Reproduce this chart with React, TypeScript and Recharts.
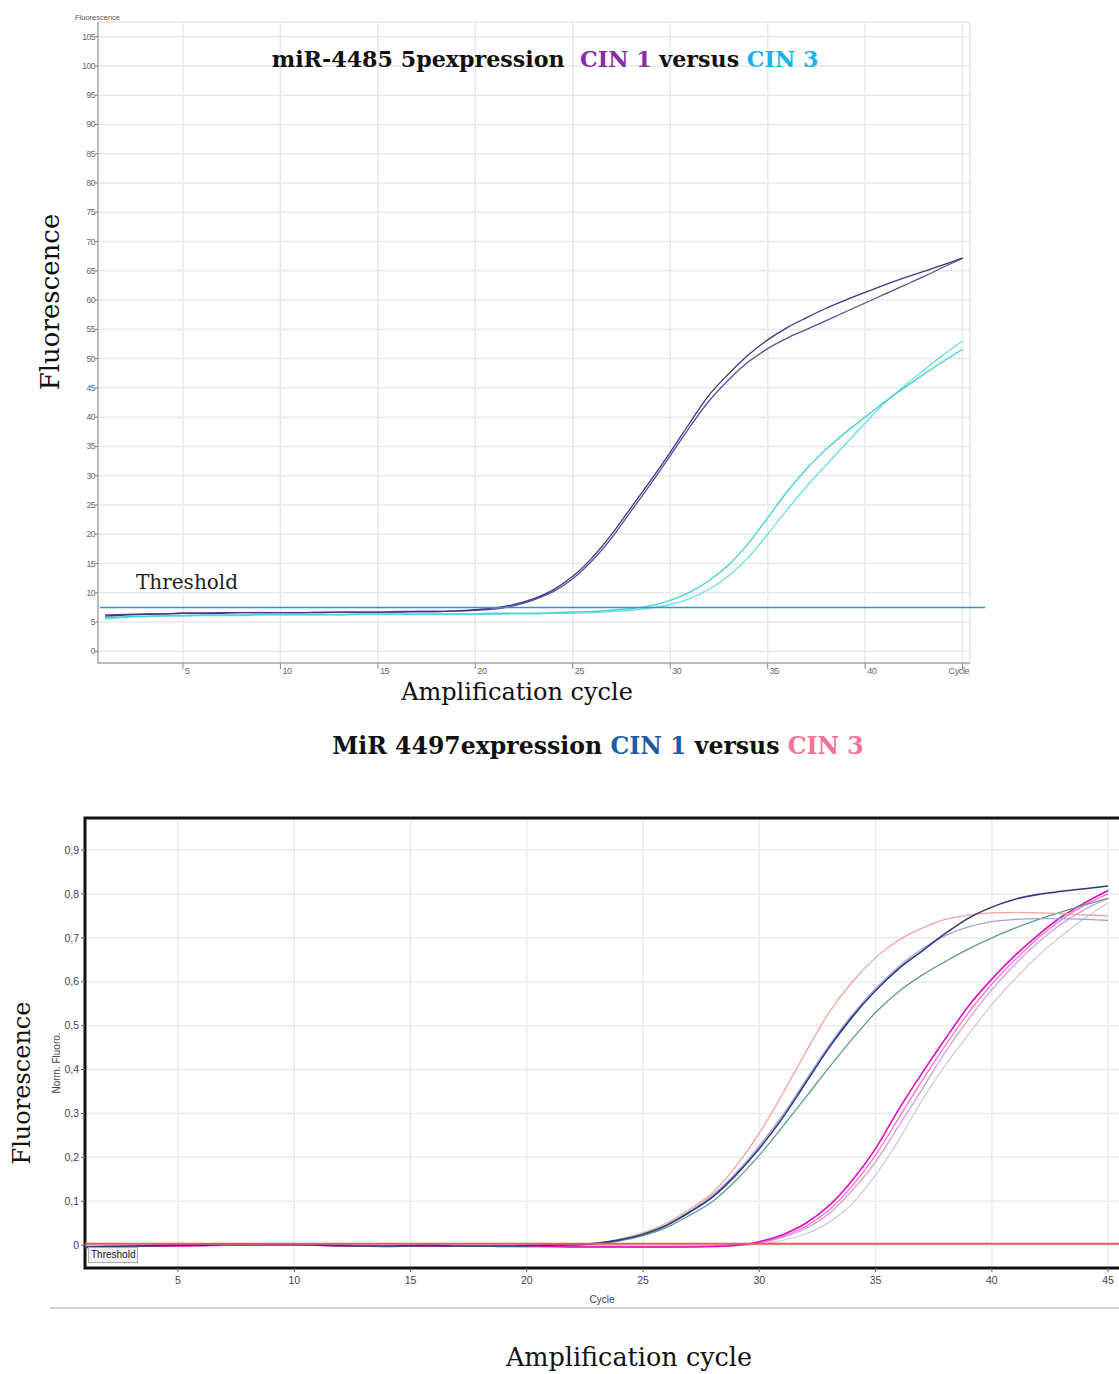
import React from 'react';
import { LineChart, Line, XAxis, YAxis, CartesianGrid, ReferenceLine, ReferenceArea } from 'recharts';

// ---- top panel: miR-4485 5p (raw fluorescence) ----
const CYCLES = [1, 2, 3, 4, 5, 6, 7, 8, 9, 10, 11, 12, 13, 14, 15, 16, 17, 18, 19, 20, 21, 22, 23, 24, 25, 26, 27, 28, 29, 30, 31, 32, 33, 34, 35, 36, 37, 38, 39, 40, 41, 42, 43, 44, 45];

const TOP_CIN1_A = [6.0, 6.2, 6.3, 6.4, 6.5, 6.5, 6.5, 6.6, 6.6, 6.6, 6.6, 6.6, 6.7, 6.7, 6.7, 6.7, 6.8, 6.8, 6.9, 7.1, 7.4, 8.0, 9.0, 10.5, 12.8, 16.0, 20.0, 24.6, 29.2, 34.0, 39.0, 43.8, 47.4, 50.6, 53.2, 55.3, 57.0, 58.6, 60.0, 61.3, 62.6, 63.8, 64.9, 66.0, 67.2];
const TOP_CIN1_B = [6.2, 6.3, 6.4, 6.4, 6.5, 6.5, 6.6, 6.6, 6.6, 6.6, 6.6, 6.7, 6.7, 6.7, 6.7, 6.8, 6.8, 6.8, 6.9, 7.0, 7.2, 7.8, 8.8, 10.2, 12.4, 15.5, 19.4, 24.0, 28.6, 33.4, 38.3, 42.8, 46.4, 49.4, 51.7, 53.5, 55.0, 56.5, 58.0, 59.5, 61.0, 62.5, 64.0, 65.6, 67.1];
const TOP_CIN3_A = [5.7, 5.9, 6.0, 6.1, 6.1, 6.2, 6.2, 6.2, 6.3, 6.3, 6.3, 6.3, 6.3, 6.4, 6.4, 6.4, 6.4, 6.4, 6.4, 6.4, 6.5, 6.5, 6.5, 6.6, 6.7, 6.8, 7.0, 7.3, 7.8, 8.7, 10.1, 12.1, 14.8, 18.4, 22.8, 27.3, 31.2, 34.5, 37.4, 40.0, 42.6, 45.0, 47.3, 49.5, 51.6];
const TOP_CIN3_B = [5.5, 5.8, 5.9, 6.0, 6.0, 6.1, 6.1, 6.1, 6.2, 6.2, 6.2, 6.2, 6.2, 6.3, 6.3, 6.3, 6.3, 6.3, 6.3, 6.3, 6.3, 6.4, 6.4, 6.5, 6.5, 6.6, 6.8, 7.0, 7.4, 8.0, 9.0, 10.6, 12.9, 16.0, 20.0, 24.2, 28.2, 31.8, 35.4, 39.0, 42.4, 45.3, 48.0, 50.6, 53.0];
const TOP_THRESHOLD = 7.5;
const TOP_Y_TICKS = [0, 5, 10, 15, 20, 25, 30, 35, 40, 45, 50, 55, 60, 65, 70, 75, 80, 85, 90, 95, 100, 105];
const TOP_X_TICKS = [5, 10, 15, 20, 25, 30, 35, 40, 45];

// ---- bottom panel: miR 4497 (normalised fluorescence) ----
const BOT_NAVY = [-0.004, -0.003, -0.002, -0.001, 0.0, 0.0, 0.001, 0.001, 0.001, 0.001, 0.0, -0.001, -0.002, -0.002, -0.001, -0.001, -0.002, -0.002, -0.002, -0.001, 0.0, 0.001, 0.004, 0.012, 0.025, 0.045, 0.075, 0.11, 0.16, 0.22, 0.29, 0.37, 0.45, 0.52, 0.58, 0.63, 0.67, 0.71, 0.745, 0.77, 0.788, 0.799, 0.806, 0.812, 0.818];
const BOT_LAVENDER = [-0.003, -0.002, -0.001, 0.0, 0.0, 0.001, 0.001, 0.001, 0.0, 0.0, 0.0, -0.001, -0.001, -0.002, -0.001, 0.0, -0.001, -0.002, -0.001, -0.001, 0.0, 0.001, 0.004, 0.012, 0.025, 0.046, 0.077, 0.114, 0.165, 0.226, 0.296, 0.376, 0.455, 0.525, 0.585, 0.635, 0.675, 0.705, 0.725, 0.737, 0.742, 0.744, 0.744, 0.742, 0.74];
const BOT_TEAL = [-0.003, -0.002, -0.002, -0.001, 0.0, 0.0, 0.0, 0.001, 0.001, 0.0, 0.0, 0.0, -0.001, -0.001, -0.001, 0.0, -0.001, -0.001, -0.002, -0.001, 0.0, 0.001, 0.003, 0.01, 0.022, 0.04, 0.068, 0.1, 0.148, 0.205, 0.27, 0.337, 0.405, 0.47, 0.53, 0.578, 0.615, 0.646, 0.675, 0.7, 0.722, 0.742, 0.759, 0.775, 0.79];
const BOT_SALMON = [-0.002, -0.002, -0.001, 0.0, 0.0, 0.001, 0.001, 0.001, 0.001, 0.0, 0.0, 0.0, -0.001, -0.001, 0.0, 0.0, -0.001, -0.001, -0.001, 0.0, 0.001, 0.002, 0.005, 0.014, 0.028, 0.05, 0.082, 0.12, 0.18, 0.255, 0.345, 0.44, 0.53, 0.6, 0.655, 0.695, 0.722, 0.742, 0.752, 0.757, 0.758, 0.757, 0.755, 0.752, 0.75];
const BOT_MAGENTA = [-0.006, -0.004, -0.003, -0.002, -0.002, -0.001, 0.0, 0.0, 0.001, 0.001, 0.0, -0.001, -0.002, -0.003, -0.002, -0.001, -0.002, -0.002, -0.003, -0.003, -0.003, -0.004, -0.004, -0.004, -0.004, -0.004, -0.004, -0.003, 0.0, 0.008, 0.024, 0.05, 0.09, 0.148, 0.22, 0.31, 0.392, 0.47, 0.545, 0.606, 0.66, 0.707, 0.748, 0.78, 0.808];
const BOT_PINK = [-0.005, -0.004, -0.003, -0.002, -0.001, -0.001, 0.0, 0.0, 0.0, 0.001, 0.0, -0.001, -0.001, -0.002, -0.002, -0.001, -0.001, -0.002, -0.002, -0.003, -0.003, -0.003, -0.003, -0.003, -0.004, -0.004, -0.003, -0.003, -0.001, 0.006, 0.02, 0.043, 0.08, 0.135, 0.205, 0.29, 0.375, 0.455, 0.53, 0.595, 0.65, 0.7, 0.742, 0.775, 0.8];
const BOT_ORCHID = [-0.004, -0.003, -0.003, -0.002, -0.001, 0.0, 0.0, 0.0, 0.001, 0.0, 0.0, -0.001, -0.002, -0.002, -0.001, -0.001, -0.002, -0.002, -0.002, -0.002, -0.003, -0.003, -0.003, -0.003, -0.003, -0.003, -0.003, -0.002, -0.001, 0.005, 0.018, 0.038, 0.072, 0.125, 0.19, 0.272, 0.355, 0.44, 0.515, 0.582, 0.64, 0.69, 0.732, 0.765, 0.79];
const BOT_GRAY = [-0.004, -0.003, -0.002, -0.002, -0.001, 0.0, 0.0, 0.0, 0.0, 0.0, 0.0, -0.001, -0.001, -0.002, -0.001, -0.001, -0.001, -0.002, -0.002, -0.002, -0.002, -0.002, -0.003, -0.003, -0.003, -0.003, -0.002, -0.002, -0.001, 0.003, 0.011, 0.026, 0.052, 0.095, 0.16, 0.24, 0.33, 0.41, 0.48, 0.548, 0.607, 0.66, 0.705, 0.745, 0.78];
const BOT_THRESHOLD = 0.003;
const BOT_Y_TICKS = [0, 0.1, 0.2, 0.3, 0.4, 0.5, 0.6, 0.7, 0.8, 0.9];
const BOT_X_TICKS = [5, 10, 15, 20, 25, 30, 35, 40, 45];

const topData = CYCLES.map((c, i) => ({
    cycle: c, a1: TOP_CIN1_A[i], a2: TOP_CIN1_B[i], b1: TOP_CIN3_A[i], b2: TOP_CIN3_B[i],
}));
const botData = CYCLES.map((c, i) => ({
    cycle: c, navy: BOT_NAVY[i], lav: BOT_LAVENDER[i], teal: BOT_TEAL[i], salmon: BOT_SALMON[i],
    mag: BOT_MAGENTA[i], pink: BOT_PINK[i], orchid: BOT_ORCHID[i], gray: BOT_GRAY[i],
}));

const SERIF = "'DejaVu Serif', serif";
const SANS = "'Liberation Sans', Arial, sans-serif";

const abs = (s: React.CSSProperties): React.CSSProperties => ({ position: 'absolute', whiteSpace: 'nowrap', ...s });

function TopXTick(props: any) {
    const { x, y, payload } = props;
    const label = payload.value === 45 ? 'Cycle' : String(payload.value);
    return (
        <text x={payload.value === 45 ? x - 14 : x + 2} y={y + 3} fontSize={9} fill="#666" fontFamily={SANS} letterSpacing={-0.4}>
            {label}
        </text>
    );
}

const fmtComma = (v: number) => (v === 0 ? '0' : v.toFixed(1).replace('.', ','));

export default function App() {
    return (
        <div style={{ position: 'absolute', left: 0, top: 0, width: 1119, height: 1374, overflow: 'hidden', background: '#fff' }}>
            {/* top chart */}
            <div style={abs({ left: 0, top: 0 })}>
                <LineChart width={1119} height={700} data={topData} margin={{ top: 22, right: 149, left: 68, bottom: 12 }}>
                    <CartesianGrid stroke="#e9e9e9" strokeWidth={1.5} />
                    <XAxis dataKey="cycle" type="number" domain={[0.64, 45.38]} ticks={TOP_X_TICKS} height={25}
                        stroke="#888" tickSize={6} tick={<TopXTick />} />
                    <YAxis type="number" domain={[-2, 107.5]} ticks={TOP_Y_TICKS} width={30} stroke="#888" tickSize={3} tickMargin={0}
                        tick={{ fontSize: 8.5, fill: '#666', fontFamily: SANS, letterSpacing: -0.5 }} />
                    <Line dataKey="b2" type="monotone" stroke="#6fe0e0" strokeWidth={1.4} dot={false} isAnimationActive={false} />
                    <Line dataKey="b1" type="monotone" stroke="#48d2d8" strokeWidth={1.4} dot={false} isAnimationActive={false} />
                    <Line dataKey="a2" type="monotone" stroke="#5a4f98" strokeWidth={1.3} dot={false} isAnimationActive={false} />
                    <Line dataKey="a1" type="monotone" stroke="#3e3585" strokeWidth={1.3} dot={false} isAnimationActive={false} />
                    <ReferenceLine segment={[{ x: 0.75, y: TOP_THRESHOLD }, { x: 46.15, y: TOP_THRESHOLD }]} stroke="#3a8ed6" strokeWidth={1.5} ifOverflow="visible" />
                </LineChart>
            </div>
            <div style={abs({ left: 75, top: 13, fontSize: 7.5, fontFamily: SANS, color: '#555' })}>Fluorescence</div>
            <div style={abs({ left: 545, top: 46, transform: 'translateX(-50%)', fontFamily: SERIF, fontWeight: 'bold', fontSize: 22.2, color: '#111' })}>
                miR-4485 5pexpression&nbsp; <span style={{ color: '#8a2ca8' }}>CIN 1</span> versus <span style={{ color: '#1ab2e8' }}>CIN 3</span>
            </div>
            <div style={abs({ left: 136, top: 570, fontFamily: SERIF, fontSize: 20, color: '#222' })}>Threshold</div>
            <div style={abs({ left: 50, top: 302, transform: 'translate(-50%, -50%) rotate(-90deg)', fontFamily: SERIF, fontSize: 26, color: '#111' })}>Fluorescence</div>
            <div style={abs({ left: 517, top: 678, transform: 'translateX(-50%)', fontFamily: SERIF, fontSize: 24, color: '#111' })}>Amplification cycle</div>

            {/* bottom chart */}
            <div style={abs({ left: 598, top: 732, transform: 'translateX(-50%)', fontFamily: SERIF, fontWeight: 'bold', fontSize: 23.6, color: '#111' })}>
                MiR 4497expression <span style={{ color: '#1f5aa6' }}>CIN 1</span> versus <span style={{ color: '#f27399' }}>CIN 3</span>
            </div>
            <div style={abs({ left: 0, top: 790 })}>
                <LineChart width={1160} height={530} data={botData} margin={{ top: 28, right: 17, left: 45, bottom: 22 }}>
                    <CartesianGrid stroke="#ececec" strokeWidth={1.5} />
                    <XAxis dataKey="cycle" type="number" domain={[1, 46.5]} ticks={BOT_X_TICKS} height={30} axisLine={false}
                        tickSize={4} tickMargin={5} stroke="#666" tick={{ fontSize: 10.5, fill: '#444', fontFamily: SANS }} />
                    <YAxis type="number" domain={[-0.052, 0.973]} ticks={BOT_Y_TICKS} width={40} axisLine={false}
                        tickSize={4} tickMargin={2} stroke="#666" tickFormatter={fmtComma}
                        tick={{ fontSize: 10.5, fill: '#444', fontFamily: SANS }} />
                    <Line dataKey="gray" type="monotone" stroke="#cfcfcf" strokeWidth={1.3} dot={false} isAnimationActive={false} />
                    <Line dataKey="orchid" type="monotone" stroke="#d99ae0" strokeWidth={1.3} dot={false} isAnimationActive={false} />
                    <Line dataKey="pink" type="monotone" stroke="#ef78c8" strokeWidth={1.3} dot={false} isAnimationActive={false} />
                    <Line dataKey="mag" type="monotone" stroke="#e00cc4" strokeWidth={1.6} dot={false} isAnimationActive={false} />
                    <Line dataKey="teal" type="monotone" stroke="#5f9c92" strokeWidth={1.3} dot={false} isAnimationActive={false} />
                    <Line dataKey="salmon" type="monotone" stroke="#f3a2a2" strokeWidth={1.3} dot={false} isAnimationActive={false} />
                    <Line dataKey="lav" type="monotone" stroke="#a3a3dc" strokeWidth={1.3} dot={false} isAnimationActive={false} />
                    <Line dataKey="navy" type="monotone" stroke="#2b3a7c" strokeWidth={1.6} dot={false} isAnimationActive={false} />
                    <ReferenceLine y={BOT_THRESHOLD} stroke="#ea5a5a" strokeWidth={2} />
                    <ReferenceArea x1={1} x2={46.5} y1={-0.052} y2={0.973} fill="none" stroke="#111" strokeWidth={3} ifOverflow="visible" />
                </LineChart>
            </div>
            <div style={abs({ left: 88, top: 1247, padding: '0 2px', fontSize: 10, fontFamily: SANS, color: '#222', background: '#f2f2f2', border: '1px solid #aaa', lineHeight: '14px' })}>Threshold</div>
            <div style={abs({ left: 56, top: 1063, transform: 'translate(-50%, -50%) rotate(-90deg)', fontSize: 10, fontFamily: SANS, color: '#444' })}>Norm. Fluoro.</div>
            <div style={abs({ left: 602, top: 1294, transform: 'translateX(-50%)', fontSize: 10, fontFamily: SANS, color: '#444' })}>Cycle</div>
            <div style={abs({ left: 50, top: 1307, width: 1100, height: 2, background: '#d2d2d2' })} />
            <div style={abs({ left: 22, top: 1083, transform: 'translate(-50%, -50%) rotate(-90deg)', fontFamily: SERIF, fontSize: 24, color: '#111' })}>Fluorescence</div>
            <div style={abs({ left: 629, top: 1342, transform: 'translateX(-50%)', fontFamily: SERIF, fontSize: 25.5, color: '#111' })}>Amplification cycle</div>
        </div>
    );
}
